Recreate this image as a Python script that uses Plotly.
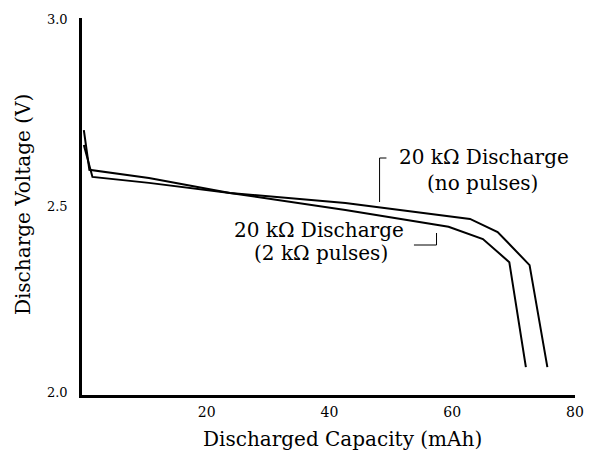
import plotly.graph_objects as go

# Data
cap_no_pulses = [0.0, 1.4, 10.6, 23.8, 42.6, 62.9, 67.4, 72.6, 75.5]
v_no_pulses = [2.664, 2.578, 2.562, 2.535, 2.508, 2.465, 2.430, 2.341, 2.067]

cap_pulses = [0.0, 0.9, 10.6, 23.8, 42.6, 59.4, 65.0, 69.3, 72.0]
v_pulses = [2.704, 2.597, 2.575, 2.535, 2.489, 2.444, 2.411, 2.349, 2.067]

x_ticks = [20, 40, 60, 80]
y_ticks = [2.0, 2.5, 3.0]
y_tick_labels = ["2.0", "2.5", "3.0"]

W, H = 595, 455
L, R, T, B = 82, 11, 18, 60
PW, PH = W - L - R, H - T - B

def px(x):
    return (x - L) / PW

def py(y):
    return (H - B - y) / PH

FONT = "DejaVu Serif"

fig = go.Figure()
fig.add_trace(go.Scatter(x=cap_no_pulses, y=v_no_pulses, mode="lines",
                         line=dict(color="black", width=2), showlegend=False))
fig.add_trace(go.Scatter(x=cap_pulses, y=v_pulses, mode="lines",
                         line=dict(color="black", width=2), showlegend=False))

fig.update_layout(
    width=W, height=H,
    margin=dict(l=L, r=R, t=T, b=B, pad=0),
    paper_bgcolor="white", plot_bgcolor="white",
    font=dict(family=FONT, color="black"),
    xaxis=dict(range=[-0.3, 80], tickvals=x_ticks, showgrid=False, zeroline=False,
               showline=True, linecolor="black", linewidth=2.5, ticks="",
               ticklabelstandoff=2,
               tickfont=dict(size=14, family=FONT)),
    yaxis=dict(range=[1.992, 3.005], tickvals=y_ticks, ticktext=y_tick_labels,
               showgrid=False, zeroline=False, showline=True, linecolor="black",
               linewidth=2.5, ticks="", ticklabelstandoff=9,
               tickfont=dict(size=13, family=FONT)),
)

ann_font = dict(family=FONT, size=20, color="black")
annotations = [
    dict(text="Discharged Capacity (mAh)", x=px(347), y=py(439), xref="paper", yref="paper",
         showarrow=False, font=ann_font, xanchor="center", yanchor="middle"),
    dict(text="Discharge Voltage (V)", x=px(22), y=py(205), xref="paper", yref="paper",
         showarrow=False, font=ann_font, textangle=-90, xanchor="center", yanchor="middle"),
    dict(text="20 kΩ Discharge", x=px(491), y=py(157), xref="paper", yref="paper",
         showarrow=False, font=ann_font, xanchor="center", yanchor="middle"),
    dict(text="(no pulses)", x=px(490), y=py(183), xref="paper", yref="paper",
         showarrow=False, font=ann_font, xanchor="center", yanchor="middle"),
    dict(text="20 kΩ Discharge", x=px(323), y=py(230), xref="paper", yref="paper",
         showarrow=False, font=ann_font, xanchor="center", yanchor="middle"),
    dict(text="(2 kΩ pulses)", x=px(325), y=py(253), xref="paper", yref="paper",
         showarrow=False, font=ann_font, xanchor="center", yanchor="middle"),
]
fig.update_layout(annotations=annotations)

bracket = dict(color="black", width=1)
shapes = [
    dict(type="line", xref="paper", yref="paper", x0=px(385), y0=py(158), x1=px(385), y1=py(202), line=bracket),
    dict(type="line", xref="paper", yref="paper", x0=px(385), y0=py(158), x1=px(392), y1=py(158), line=bracket),
    dict(type="line", xref="paper", yref="paper", x0=px(420), y0=py(245), x1=px(443), y1=py(245), line=bracket),
    dict(type="line", xref="paper", yref="paper", x0=px(443), y0=py(233), x1=px(443), y1=py(245), line=bracket),
]
fig.update_layout(shapes=shapes)

fig.write_html("out.html")
